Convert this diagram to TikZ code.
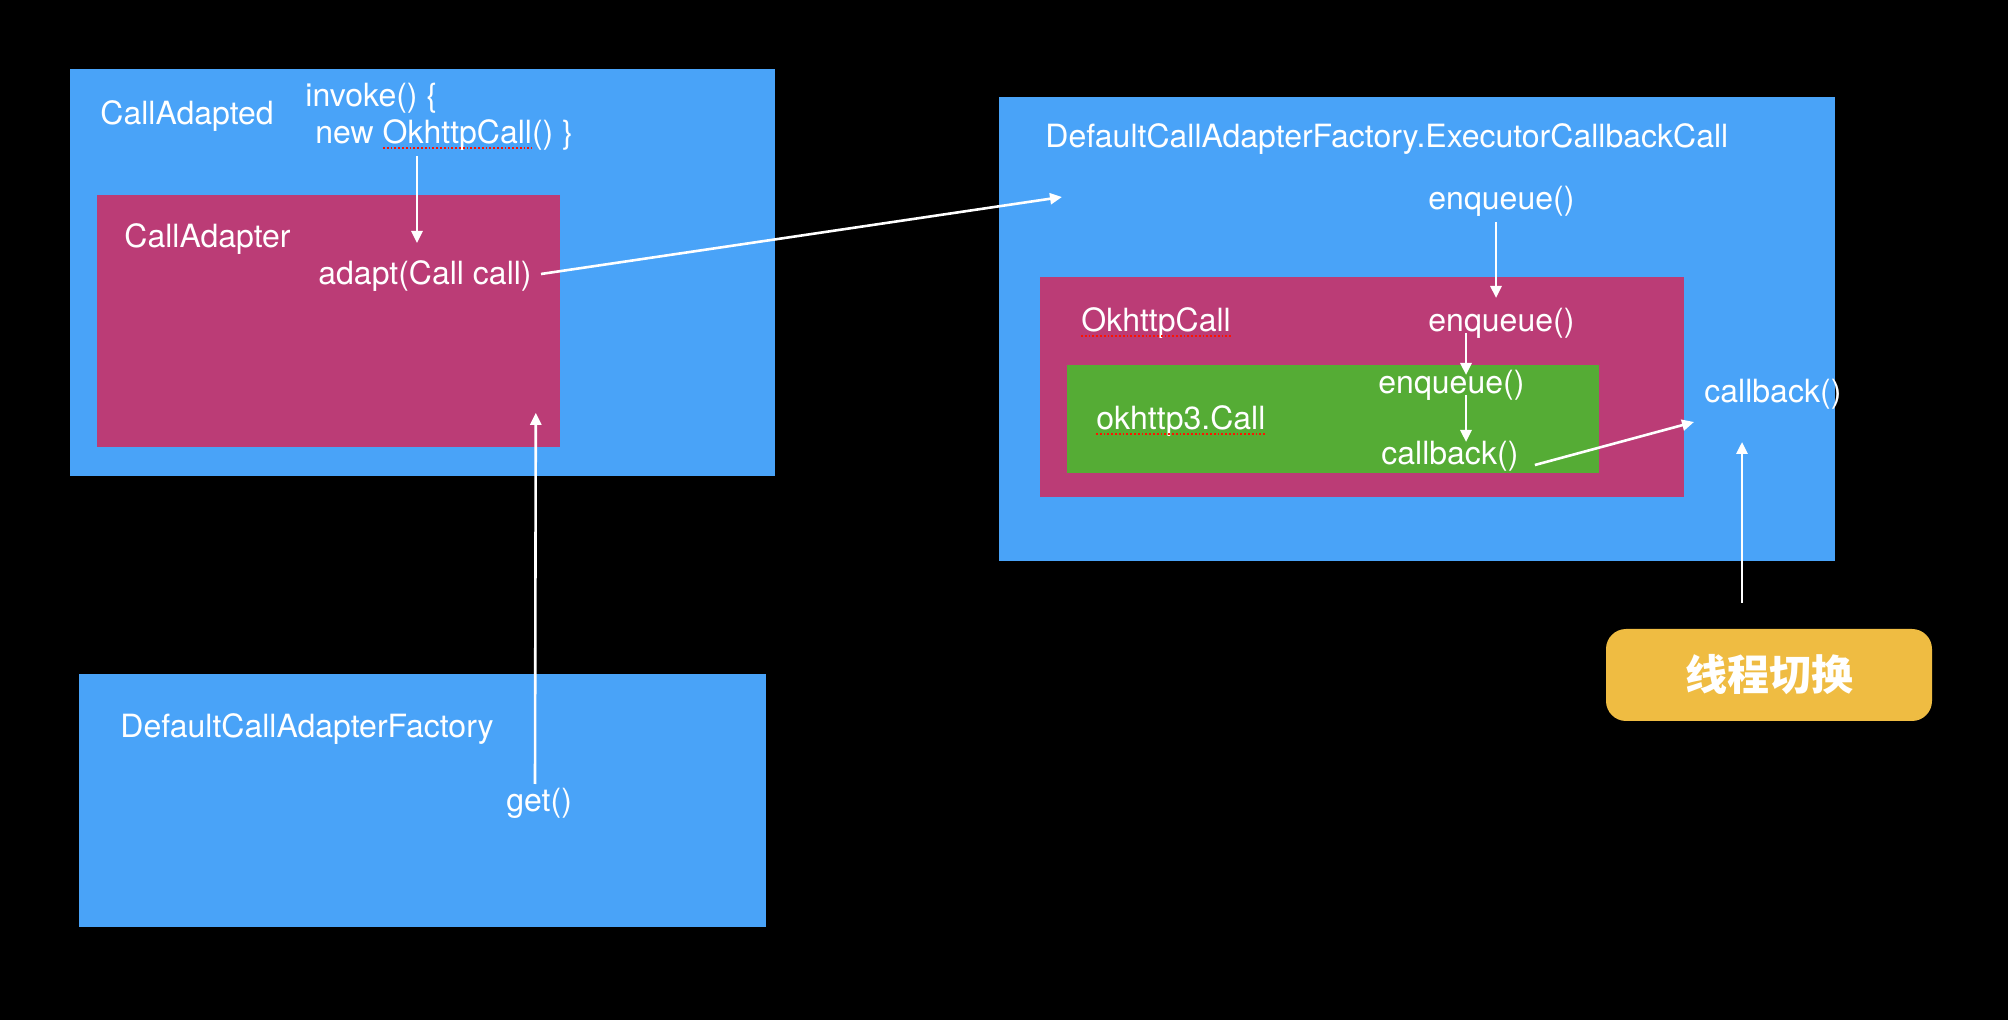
\documentclass[tikz,border=0pt]{standalone}
\usepackage{fontspec}
\setsansfont{TeX Gyre Heros}
\newfontfamily\cjk{Noto Sans CJK SC}
\usetikzlibrary{arrows.meta,positioning}
\definecolor{boxblue}{HTML}{49A3F8}
\definecolor{boxred}{HTML}{BB3C76}
\definecolor{boxgreen}{HTML}{55AC35}
\definecolor{boxyellow}{HTML}{EFBC42}
\begin{document}
\begin{tikzpicture}[x=0.5pt,y=-0.5pt,
    area/.style={anchor=north west,inner sep=0pt,draw=none},
    txt/.style={anchor=base west},
    flow/.style={white,line width=1.3pt,-{Triangle[length=6pt,width=5.5pt]}},
    squiggle/.style={red!85!orange,densely dotted,line width=0.9pt}]
    \tikzstyle{every node}=[text=white,inner sep=0pt,font=\sffamily\fontsize{16}{19}\selectfont]
    \fill[black] (0,0) rectangle (2008,1020);
    \useasboundingbox (0,0) rectangle (2008,1020);
    % boxes
    \node[area,fill=boxblue,minimum width=352.5pt,minimum height=203.5pt] (adapted) at (70,69) {};
    \node[area,fill=boxred,minimum width=231.5pt,minimum height=126pt] (adapter) at (97,195) {};
    \node[area,fill=boxblue,minimum width=343.5pt,minimum height=126.5pt] (factory) at (79,674) {};
    \node[area,fill=boxblue,minimum width=418pt,minimum height=232pt] (executor) at (999,97) {};
    \node[area,fill=boxred,minimum width=322pt,minimum height=110pt] (okcall) at (1040,277) {};
    \node[area,fill=boxgreen,minimum width=266pt,minimum height=54pt] (okthree) at (1067,365) {};
    \node[fill=boxyellow,rounded corners=10pt,minimum width=163pt,minimum height=46pt,
      font=\cjk\bfseries\fontsize{21}{24}\selectfont] (switch) at (1769,675) {线程切换};
    % texts
    \node[txt] (adaptedtxt) at (100,125) {CallAdapted};
    \node[txt] (invoke) at (305,107) {invoke() \{};
    \node[txt] (newcall) at (315,144) {new OkhttpCall() \}};
    \node[txt] (adaptertxt) at (124,248) {CallAdapter};
    \node[txt] (adapt) at (318,285) {adapt(Call call)};
    \node[txt] (factorytxt) at (120,738) {DefaultCallAdapterFactory};
    \node[txt] (get) at (506,812) {get()};
    \node[txt] (executortxt) at (1045,148) {DefaultCallAdapterFactory.ExecutorCallbackCall};
    \node[txt] (enqa) at (1428,210) {enqueue()};
    \node[txt] (okcalltxt) at (1081,332) {OkhttpCall};
    \node[txt] (enqb) at (1428,332) {enqueue()};
    \node[txt] (okthreetxt) at (1096,430) {okhttp3.Call};
    \node[txt] (enqc) at (1378,394) {enqueue()};
    \node[txt] (cba) at (1381,465) {callback()};
    \node[txt] (cbb) at (1704,403) {callback()};
    % spell check marks
    \draw[squiggle] (383,148) -- (532,148);
    \draw[squiggle] ([yshift=-2pt]okcalltxt.base west) -- ([yshift=-2pt]okcalltxt.base east);
    \draw[squiggle] ([yshift=-2pt]okthreetxt.base west) -- ([yshift=-2pt]okthreetxt.base east);
    % arrows
    \draw[flow] ([xshift=51pt,yshift=-6pt]newcall.base west) -- ([xshift=49.5pt,yshift=21pt]adapt.base west);
    \draw[flow] ([xshift=4.5pt,yshift=5.5pt]adapt.base east) -- ([xshift=31.5pt,yshift=-50pt]executor.north west);
    \draw[flow] ([xshift=14.5pt,yshift=14pt]get.base west) -- ([xshift=-12.5pt,yshift=17.5pt]adapter.south east);
    \draw[flow] ([xshift=34pt,yshift=-6pt]enqa.base west) -- ([xshift=34pt,yshift=17pt]enqb.base west);
    \draw[flow] ([xshift=19pt,yshift=-0.5pt]enqb.base west) -- ([xshift=44pt,yshift=9.5pt]enqc.base west);
    \draw[flow] ([xshift=44pt,yshift=-0.5pt]enqc.base west) -- ([xshift=42.5pt,yshift=11.5pt]cba.base west);
    \draw[flow] ([xshift=8pt,yshift=0pt]cba.base east) -- ([xshift=-5pt,yshift=-9.5pt]cbb.base west);
    \draw[flow] ([xshift=-13.5pt,yshift=13pt]switch.north) -- ([xshift=19pt,yshift=-19.5pt]cbb.base west);
\end{tikzpicture}
\end{document}
